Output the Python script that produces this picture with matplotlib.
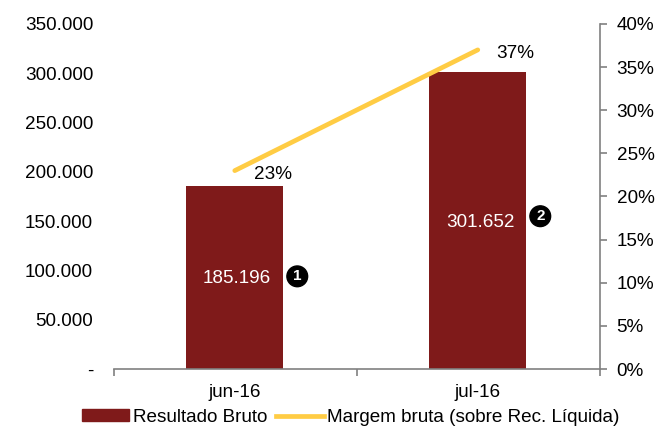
import matplotlib
matplotlib.use("Agg")
import matplotlib.pyplot as plt
from matplotlib.lines import Line2D
from matplotlib.patches import Patch

plt.rcParams["font.family"] = ["Liberation Sans", "DejaVu Sans"]

months = ["jun-16", "jul-16"]
resultado = [185196, 301652]
margem = [23, 37]
bar_labels = ["185.196", "301.652"]
margem_labels = ["23%", "37%"]
left_ticks = [0, 50000, 100000, 150000, 200000, 250000, 300000, 350000]
left_labels = ["-", "50.000", "100.000", "150.000", "200.000", "250.000", "300.000", "350.000"]
right_ticks = [0, 5, 10, 15, 20, 25, 30, 35, 40]

RED = "#7F1A1A"
YEL = "#FFCC44"
GREY = "#808080"
FS = 13.6

W, H = 656, 426
fig = plt.figure(figsize=(W / 100, H / 100), dpi=100, facecolor="white")
ax = fig.add_axes([114 / W, 1 - 369 / H, (600 - 114) / W, (369 - 24) / H])
ax.patch.set_alpha(0)

x = [0, 1]
ax.bar(x, resultado, width=0.4, color=RED, zorder=2)
ax.set_xlim(-0.497, 1.503)
ax.set_ylim(0, 350000)
ax.set_xticks([-0.497, 0.503, 1.503])
ax.set_xticklabels([])
ax.set_xticks(x, minor=True)
ax.set_xticklabels(months, minor=True, fontsize=FS)
ax.tick_params(axis="x", which="minor", length=0, pad=10.5)
ax.tick_params(axis="x", which="major", length=5, color=GREY, direction="out", width=1.2)
ax.set_yticks(left_ticks)
ax.set_yticklabels(left_labels, fontsize=FS)
ax.tick_params(axis="y", length=0, pad=15)
for s in ["top", "left", "right"]:
    ax.spines[s].set_visible(False)
ax.spines["bottom"].set_color(GREY)
ax.spines["bottom"].set_linewidth(1.2)

for xi, yi, lab in zip(x, [91500, 148500], bar_labels):
    ax.text(xi + 0.01, yi, lab, color="white", fontsize=FS,
            ha="center", va="center", zorder=4)

ax2 = ax.twinx()
ax2.patch.set_alpha(0)
ax2.plot(x, margem, color=YEL, lw=3.4, zorder=5, solid_capstyle="round")
ax2.set_ylim(0, 40)
ax2.set_yticks(right_ticks)
ax2.set_yticklabels([f"{t}%" for t in right_ticks], fontsize=FS)
ax2.tick_params(axis="y", length=5, color=GREY, pad=7, width=1.2)
for s in ["top", "left", "bottom"]:
    ax2.spines[s].set_visible(False)
ax2.spines["right"].set_color(GREY)
ax2.spines["right"].set_linewidth(1.2)

ax2.annotate(margem_labels[0], (x[0], margem[0]), xytext=(14, -3), textcoords="offset points",
             fontsize=FS, va="center", zorder=6)
ax2.annotate(margem_labels[1], (x[1], margem[1]), xytext=(13, -2.5), textcoords="offset points",
             fontsize=FS, va="center", zorder=6)

# numbered badges beside the bars
for xi, yi, n in zip(x, [94000, 155000], ["1", "2"]):
    ax.annotate(n, (xi, yi), xytext=(45, 0), textcoords="offset points", ha="center", va="center",
                fontsize=11, fontweight="bold", color="white", zorder=7,
                bbox=dict(boxstyle="circle,pad=0.22", fc="black", ec="black"))

handles = [Patch(color=RED, label="Resultado Bruto"),
           Line2D([0], [0], color=YEL, lw=3.4, label="Margem bruta (sobre Rec. Líquida)")]
fig.legend(handles=handles, loc="lower left", bbox_to_anchor=(76 / W, -5.5 / H), ncol=2, frameon=False,
           fontsize=FS, handlelength=2.5, handletextpad=0.2, columnspacing=0.5, handleheight=0.6,
           borderaxespad=0, borderpad=0.3)

fig.savefig("out.png", dpi=100)
